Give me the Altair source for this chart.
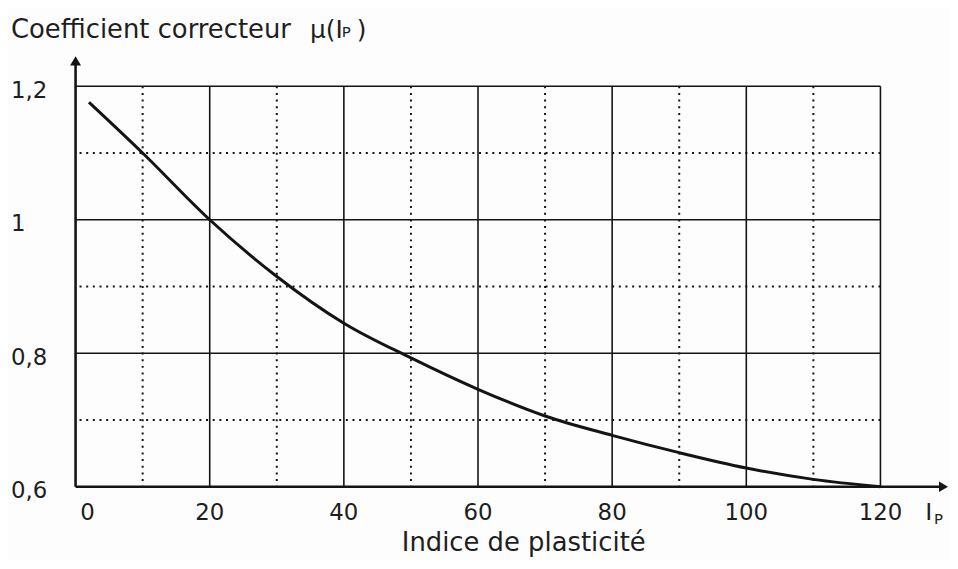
import altair as alt
import pandas as pd

# Curve
ip = [2, 10, 20, 30, 40, 50, 60, 70, 80, 90, 100, 110, 120]
mu = [1.176, 1.1, 1.0, 0.915, 0.845, 0.793, 0.746, 0.706, 0.677, 0.651, 0.628, 0.611, 0.6]

# Axis ticks / labels
x_ticks = [0, 20, 40, 60, 80, 100, 120]
x_labels = ["0", "20", "40", "60", "80", "100", "120"]
y_ticks = [0.6, 0.8, 1.0, 1.2]
y_labels = ["0,6", "0,8", "1", "1,2"]

# Grid lines
x_major = [20, 40, 60, 80, 100, 120]
x_minor = [10, 30, 50, 70, 90, 110]
y_major = [0.8, 1.0, 1.2]
y_minor = [0.7, 0.9, 1.1]

# Texts
y_title = "Coefficient correcteur"
y_title_sym = "μ(I"
sub_p = "P"
close_par = ")"
x_title = "Indice de plasticité"
x_sym = "I"

FONT = "DejaVu Sans"
INK = "#141414"
TXT = "#1e1e1e"

xs = alt.Scale(domain=[0, 120], nice=False, zero=False)
ys = alt.Scale(domain=[0.6, 1.2], nice=False, zero=False)

X = lambda f="ip": alt.X(f"{f}:Q", scale=xs, axis=None)
Y = lambda f="mu": alt.Y(f"{f}:Q", scale=ys, axis=None)

curve = alt.Chart(pd.DataFrame({"ip": ip, "mu": mu})).mark_line(
    interpolate="monotone", color=INK, strokeWidth=3
).encode(x=X(), y=Y())

dot = [2, 4.7]

vmaj = alt.Chart(pd.DataFrame({"ip": x_major})).mark_rule(
    color=INK, strokeWidth=1.6).encode(x=X())
vmin = alt.Chart(pd.DataFrame({"ip": x_minor})).mark_rule(
    color=INK, strokeWidth=2, strokeDash=dot).encode(x=X())
hmaj = alt.Chart(pd.DataFrame({"mu": y_major})).mark_rule(
    color=INK, strokeWidth=1.6).encode(y=Y())
hmin = alt.Chart(pd.DataFrame({"mu": y_minor})).mark_rule(
    color=INK, strokeWidth=2, strokeDash=dot).encode(y=Y())

# Axis lines with arrows
xaxis = alt.Chart(pd.DataFrame({"ip": [0], "ip2": [129.4], "mu": [0.6]})).mark_rule(
    color=INK, strokeWidth=2.6).encode(x=X(), x2="ip2:Q", y=Y())
yaxis = alt.Chart(pd.DataFrame({"ip": [0], "mu": [0.6], "mu2": [1.24]})).mark_rule(
    color=INK, strokeWidth=2.6).encode(x=X(), y=Y(), y2="mu2:Q")
xarrow = alt.Chart(pd.DataFrame({"ip": [129.4], "mu": [0.6]})).mark_point(
    shape="triangle-right", filled=True, size=110, color=INK, opacity=1
).encode(x=X(), y=Y())
yarrow = alt.Chart(pd.DataFrame({"ip": [0], "mu": [1.238]})).mark_point(
    shape="triangle-up", filled=True, size=120, color=INK, opacity=1
).encode(x=X(), y=Y())

# Tick labels
xl = pd.DataFrame({"ip": x_ticks, "t": x_labels})
xlab_first = alt.Chart(xl.iloc[:1]).mark_text(
    font=FONT, fontSize=23, color=TXT, align="center", baseline="alphabetic", dx=12
).encode(x=X(), y=alt.value(436), text="t:N")
xlab_rest = alt.Chart(xl.iloc[1:]).mark_text(
    font=FONT, fontSize=23, color=TXT, align="center", baseline="alphabetic"
).encode(x=X(), y=alt.value(436), text="t:N")
ylab = alt.Chart(pd.DataFrame({"mu": y_ticks, "t": y_labels})).mark_text(
    font=FONT, fontSize=23, color=TXT, align="left", baseline="alphabetic", dy=11.5
).encode(x=alt.value(-65), y=Y(), text="t:N")


def txt(s, x, y, size, align="left"):
    return alt.Chart(pd.DataFrame({"t": [s]})).mark_text(
        font=FONT, fontSize=size, color=TXT, align=align, baseline="alphabetic"
    ).encode(text="t:N", x=alt.value(x), y=alt.value(y))


# positions relative to plot origin (left=76, top=85 on the page)
texts = [
    txt(y_title, -65, -49, 26),
    txt(y_title_sym, 236, -49, 25),
    txt(sub_p, 268, -50, 15),
    txt(close_par, 283, -49, 25),
    txt(x_title, 451, 468, 26, "center"),
    txt(x_sym, 855, 437, 24),
    txt(sub_p, 864, 441, 15),
]

chart = alt.layer(
    hmin, vmin, hmaj, vmaj, xaxis, yaxis, xarrow, yarrow, curve,
    xlab_first, xlab_rest, ylab, *texts
).properties(
    width=810, height=403,
    padding={"left": 68, "top": 77, "right": 70, "bottom": 73},
    autosize=alt.AutoSizeParams(type="none"),
    background="#fdfdfd",
).configure_view(stroke=None)

chart.save("out.html", embed_options={"renderer": "svg", "actions": False})
